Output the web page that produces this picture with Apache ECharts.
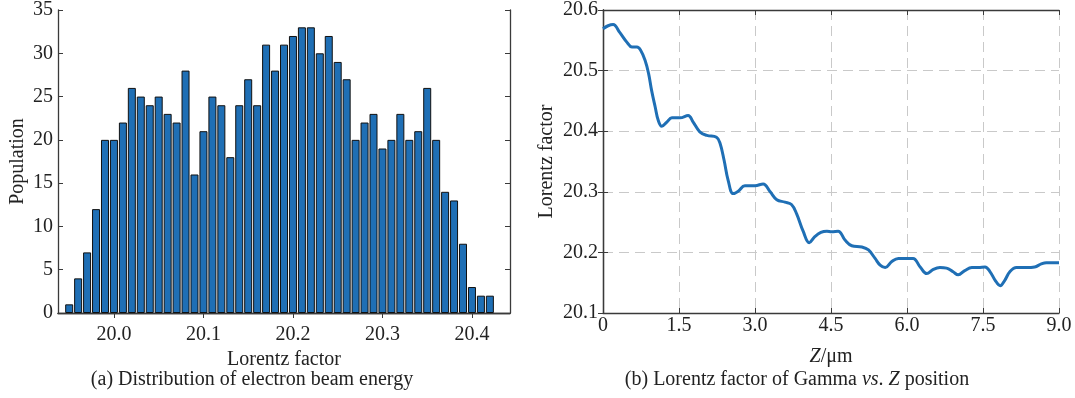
<!DOCTYPE html>
<html>
<head>
<meta charset="utf-8">
<script src="https://cdn.jsdelivr.net/npm/echarts@6/dist/echarts.min.js"></script>
<style>
  html, body { margin: 0; background: #fff; }
  #chart { width: 1075px; height: 398px; }
</style>
</head>
<body>
<div id="chart"></div>
<script>
// (a) histogram of the Lorentz factor
const binCenters = [
  19.95, 19.96, 19.97, 19.98, 19.99, 20.00, 20.01, 20.02, 20.03, 20.04,
  20.05, 20.06, 20.07, 20.08, 20.09, 20.10, 20.11, 20.12, 20.13, 20.14,
  20.15, 20.16, 20.17, 20.18, 20.19, 20.20, 20.21, 20.22, 20.23, 20.24,
  20.25, 20.26, 20.27, 20.28, 20.29, 20.30, 20.31, 20.32, 20.33, 20.34,
  20.35, 20.36, 20.37, 20.38, 20.39, 20.40, 20.41, 20.42
]
const population = [
  1, 4, 7, 12, 20, 20, 22, 26, 25, 24,
  25, 23, 22, 28, 16, 21, 25, 24, 18, 24,
  27, 24, 31, 28, 31, 32, 33, 33, 30, 32,
  29, 27, 20, 22, 23, 19, 20, 23, 20, 21,
  26, 20, 14, 13, 8, 3, 2, 2
]
const histTicks = [20.0, 20.1, 20.2, 20.3, 20.4]

// (b) Lorentz factor along Z (um)
const zPos = [
  0, 0.1, 0.2, 0.33, 0.47, 0.57, 0.67, 0.74, 0.83, 0.9,
  0.96, 1.03, 1.09, 1.16, 1.26, 1.36, 1.52, 1.68, 1.78, 1.91,
  2.05, 2.24, 2.31, 2.39, 2.47, 2.57, 2.67, 2.8, 3.0, 3.16,
  3.3, 3.43, 3.59, 3.72, 3.82, 3.95, 4.07, 4.18, 4.3, 4.42,
  4.51, 4.64, 4.78, 4.91, 5.11, 5.24, 5.37, 5.47, 5.57, 5.7,
  5.83, 5.99, 6.12, 6.26, 6.39, 6.52, 6.65, 6.78, 6.91, 7.01,
  7.14, 7.28, 7.41, 7.54, 7.64, 7.74, 7.84, 7.93, 8.03, 8.16,
  8.36, 8.52, 8.65, 8.75, 9.0
]
const gamma = [
  20.569, 20.574, 20.576, 20.563, 20.547, 20.539, 20.539, 20.534, 20.517, 20.495,
  20.467, 20.44, 20.418, 20.408, 20.415, 20.422, 20.422, 20.426, 20.415, 20.399,
  20.393, 20.39, 20.38, 20.352, 20.319, 20.297, 20.301, 20.31, 20.31, 20.313,
  20.30, 20.287, 20.283, 20.279, 20.264, 20.235, 20.216, 20.226, 20.233, 20.235,
  20.234, 20.235, 20.22, 20.211, 20.209, 20.204, 20.19, 20.179, 20.175, 20.185,
  20.19, 20.19, 20.19, 20.176, 20.165, 20.172, 20.175, 20.174, 20.168, 20.163,
  20.17, 20.175, 20.175, 20.176, 20.168, 20.154, 20.145, 20.154, 20.168, 20.175,
  20.175, 20.176, 20.181, 20.183, 20.183
]

const FONT = '"Liberation Serif", "Times New Roman", serif'
const INK = '#222'
const FRAME = '#3a3a3a'
const BLUE = '#1f6fb5'

const txt = { fontFamily: FONT, fontSize: 20, color: INK }
const frameLine = { show: true, lineStyle: { color: FRAME, width: 1.3 } }
const inTick = { show: true, inside: true, length: 5, lineStyle: { color: FRAME } }
const gridDash = { show: true, lineStyle: { color: '#c9c9c9', width: 1, type: [10, 6] } }

const chart = echarts.init(document.getElementById('chart'), null, { renderer: 'canvas' })

chart.setOption({
  animation: false,
  grid: [
    { left: 58, top: 10, width: 452, height: 303 },
    { left: 603, top: 9, width: 456, height: 304 }
  ],
  xAxis: [
    {
      gridIndex: 0, type: 'value', min: 19.9375, max: 20.4425,
      axisLine: frameLine,
      axisTick: { ...inTick, customValues: histTicks },
      axisLabel: { ...txt, margin: 12, customValues: histTicks, formatter: v => v.toFixed(1) },
      splitLine: { show: false },
      name: 'Lorentz factor', nameLocation: 'middle', nameGap: 30, nameTextStyle: txt
    },
    {
      gridIndex: 0, type: 'value', min: 19.9375, max: 20.4425, position: 'top',
      axisLine: frameLine,
      axisTick: { ...inTick, customValues: histTicks },
      axisLabel: { show: false }, splitLine: { show: false }
    },
    {
      gridIndex: 1, type: 'value', min: 0, max: 9, interval: 1.5,
      axisLine: frameLine, axisTick: inTick,
      axisLabel: { ...txt, margin: 3, formatter: v => (v === 0 ? '0' : v.toFixed(1)) },
      splitLine: gridDash,
      name: '{i|Z}/μm', nameLocation: 'middle', nameGap: 34,
      nameTextStyle: { ...txt, rich: { i: { ...txt, fontStyle: 'italic' } } }
    },
    {
      gridIndex: 1, type: 'value', min: 0, max: 9, interval: 1.5, position: 'top',
      axisLine: frameLine, axisTick: inTick,
      axisLabel: { show: false }, splitLine: { show: false }
    }
  ],
  yAxis: [
    {
      gridIndex: 0, type: 'value', min: 0, max: 35, interval: 5,
      axisLine: frameLine, axisTick: inTick,
      axisLabel: { ...txt, margin: 5 },
      splitLine: { show: false },
      name: 'Population', nameLocation: 'middle', nameGap: 30, nameTextStyle: txt
    },
    {
      gridIndex: 0, type: 'value', min: 0, max: 35, interval: 5, position: 'right',
      axisLine: frameLine, axisTick: inTick,
      axisLabel: { show: false }, splitLine: { show: false }
    },
    {
      gridIndex: 1, type: 'value', min: 20.1, max: 20.6, interval: 0.1,
      axisLine: frameLine, axisTick: inTick,
      axisLabel: { ...txt, margin: 5, formatter: v => v.toFixed(1) },
      splitLine: gridDash,
      name: 'Lorentz factor', nameLocation: 'middle', nameGap: 46, nameTextStyle: txt
    },
    {
      gridIndex: 1, type: 'value', min: 20.1, max: 20.6, interval: 0.1, position: 'right',
      axisLine: frameLine, axisTick: inTick,
      axisLabel: { show: false }, splitLine: { show: false }
    }
  ],
  series: [
    {
      type: 'bar', xAxisIndex: 0, yAxisIndex: 0,
      data: binCenters.map((x, i) => [x, population[i]]),
      barWidth: 8,
      itemStyle: { color: BLUE, borderColor: '#111', borderWidth: 1 }
    },
    {
      type: 'line', xAxisIndex: 2, yAxisIndex: 2,
      data: zPos.map((z, i) => [z, gamma[i]]),
      smooth: 0.4, showSymbol: false,
      lineStyle: { color: BLUE, width: 3 }
    }
  ],
  graphic: [
    {
      type: 'text', x: 252, y: 380,
      style: { text: '(a) Distribution of electron beam energy', align: 'center', verticalAlign: 'middle',
        fontFamily: FONT, fontSize: 20, fill: INK }
    },
    {
      type: 'text', x: 797, y: 380,
      style: {
        text: '(b) Lorentz factor of Gamma {i|vs}. {i|Z} position', align: 'center', verticalAlign: 'middle',
        fontFamily: FONT, fontSize: 20, fill: INK,
        rich: { i: { fontFamily: FONT, fontSize: 20, fontStyle: 'italic', fill: INK } }
      }
    }
  ]
})
</script>
</body>
</html>
